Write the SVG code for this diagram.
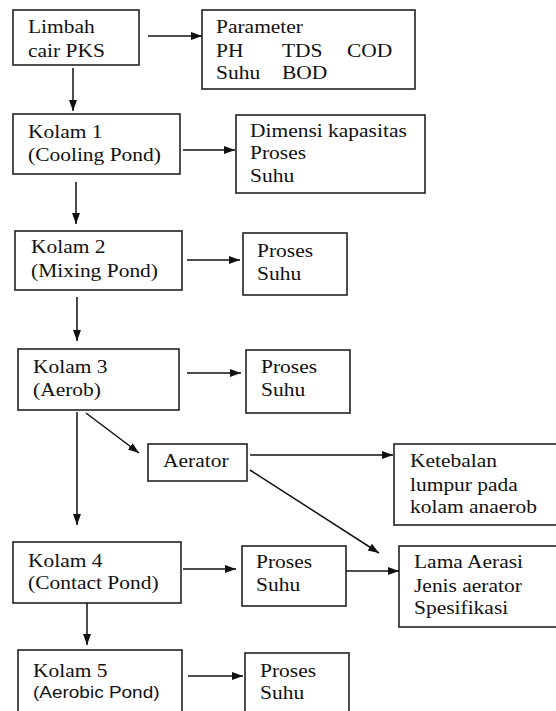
<svg xmlns="http://www.w3.org/2000/svg" width="556" height="711" viewBox="0 0 556 711">
<style>
rect{fill:#fff;stroke:#222;stroke-width:1.6}
text{font-family:"Liberation Serif","Times New Roman",serif;font-size:19px;fill:#111}
text.sans{font-family:"Liberation Sans",Arial,sans-serif;font-size:16.8px}
.c path{fill:none;stroke:#111;stroke-width:1.5;marker-end:url(#ah)}
</style>
<defs>
<marker id="ah" markerUnits="userSpaceOnUse" markerWidth="12" markerHeight="10" refX="11" refY="5" orient="auto">
<path d="M0,1 L11,5 L0,9 Z" fill="#111"/>
</marker>
</defs>
<rect x="0" y="0" width="556" height="711" style="stroke:none"/>
<g id="n-limbah"><rect x="13" y="10" width="126" height="55"/>
<text transform="translate(28,33) scale(1.13,1)">Limbah</text>
<text transform="translate(28,57) scale(1.13,1)">cair PKS</text></g>
<g id="n-parameter"><rect x="202" y="10" width="213" height="79"/>
<text transform="translate(216,33) scale(1.13,1)">Parameter</text>
<text transform="translate(216,57) scale(1.13,1)">PH</text>
<text transform="translate(282,57) scale(1.13,1)">TDS</text>
<text transform="translate(347,57) scale(1.13,1)">COD</text>
<text transform="translate(216,79) scale(1.13,1)">Suhu</text>
<text transform="translate(282,79) scale(1.13,1)">BOD</text></g>
<g id="n-kolam1"><rect x="13" y="114" width="167" height="60"/>
<text transform="translate(28,138) scale(1.13,1)">Kolam 1</text>
<text transform="translate(28,161) scale(1.13,1)">(Cooling Pond)</text></g>
<g id="n-dimensi"><rect x="236" y="115" width="189" height="78"/>
<text transform="translate(250,137) scale(1.13,1)">Dimensi kapasitas</text>
<text transform="translate(250,159) scale(1.13,1)">Proses</text>
<text transform="translate(250,182) scale(1.13,1)">Suhu</text></g>
<g id="n-kolam2"><rect x="15" y="231" width="167" height="59"/>
<text transform="translate(31,253) scale(1.13,1)">Kolam 2</text>
<text transform="translate(31,277) scale(1.13,1)">(Mixing Pond)</text></g>
<g id="n-proses2"><rect x="243" y="233" width="104" height="62"/>
<text transform="translate(257,257) scale(1.13,1)">Proses</text>
<text transform="translate(257,280) scale(1.13,1)">Suhu</text></g>
<g id="n-kolam3"><rect x="18" y="349" width="161" height="61"/>
<text transform="translate(33,373) scale(1.13,1)">Kolam 3</text>
<text transform="translate(33,396) scale(1.13,1)">(Aerob)</text></g>
<g id="n-proses3"><rect x="246" y="350" width="104" height="63"/>
<text transform="translate(261,373) scale(1.13,1)">Proses</text>
<text transform="translate(261,396) scale(1.13,1)">Suhu</text></g>
<g id="n-aerator"><rect x="148" y="444" width="99" height="37"/>
<text transform="translate(163,467) scale(1.13,1)">Aerator</text></g>
<g id="n-ketebalan"><rect x="394" y="444" width="175" height="81"/>
<text transform="translate(410,467) scale(1.13,1)">Ketebalan</text>
<text transform="translate(410,491) scale(1.13,1)">lumpur pada</text>
<text transform="translate(410,513) scale(1.13,1)">kolam anaerob</text></g>
<g id="n-kolam4"><rect x="13" y="542" width="168" height="61"/>
<text transform="translate(28,567) scale(1.13,1)">Kolam 4</text>
<text transform="translate(28,589) scale(1.13,1)">(Contact Pond)</text></g>
<g id="n-proses4"><rect x="242" y="546" width="104" height="60"/>
<text transform="translate(256,568) scale(1.13,1)">Proses</text>
<text transform="translate(256,591) scale(1.13,1)">Suhu</text></g>
<g id="n-lama"><rect x="399" y="546" width="170" height="81"/>
<text transform="translate(414,568) scale(1.13,1)">Lama Aerasi</text>
<text transform="translate(414,592) scale(1.13,1)">Jenis aerator</text>
<text transform="translate(414,614) scale(1.13,1)">Spesifikasi</text></g>
<g id="n-kolam5"><rect x="18" y="650" width="164" height="75"/>
<text transform="translate(33,677) scale(1.13,1)">Kolam 5</text>
<text class="sans" transform="translate(33,698) scale(1.13,1)">(Aerobic Pond)</text></g>
<g id="n-proses5"><rect x="245" y="653" width="104" height="75"/>
<text transform="translate(260,677) scale(1.13,1)">Proses</text>
<text transform="translate(260,699) scale(1.13,1)">Suhu</text></g>
<g id="connectors" class="c">
<path d="M148,36 H202"/>
<path d="M73,68 V111"/>
<path d="M183,150 H235"/>
<path d="M76,182 V224"/>
<path d="M187,260 H240"/>
<path d="M77,297 V341"/>
<path d="M187,373 H241"/>
<path d="M77,412 V525"/>
<path d="M86,413 L139,453"/>
<path d="M250,455 H393"/>
<path d="M250,470 L379,553"/>
<path d="M183,569 H236"/>
<path d="M346,571 H399"/>
<path d="M87,603 V645"/>
<path d="M188,676 H243"/>
</g>
</svg>
